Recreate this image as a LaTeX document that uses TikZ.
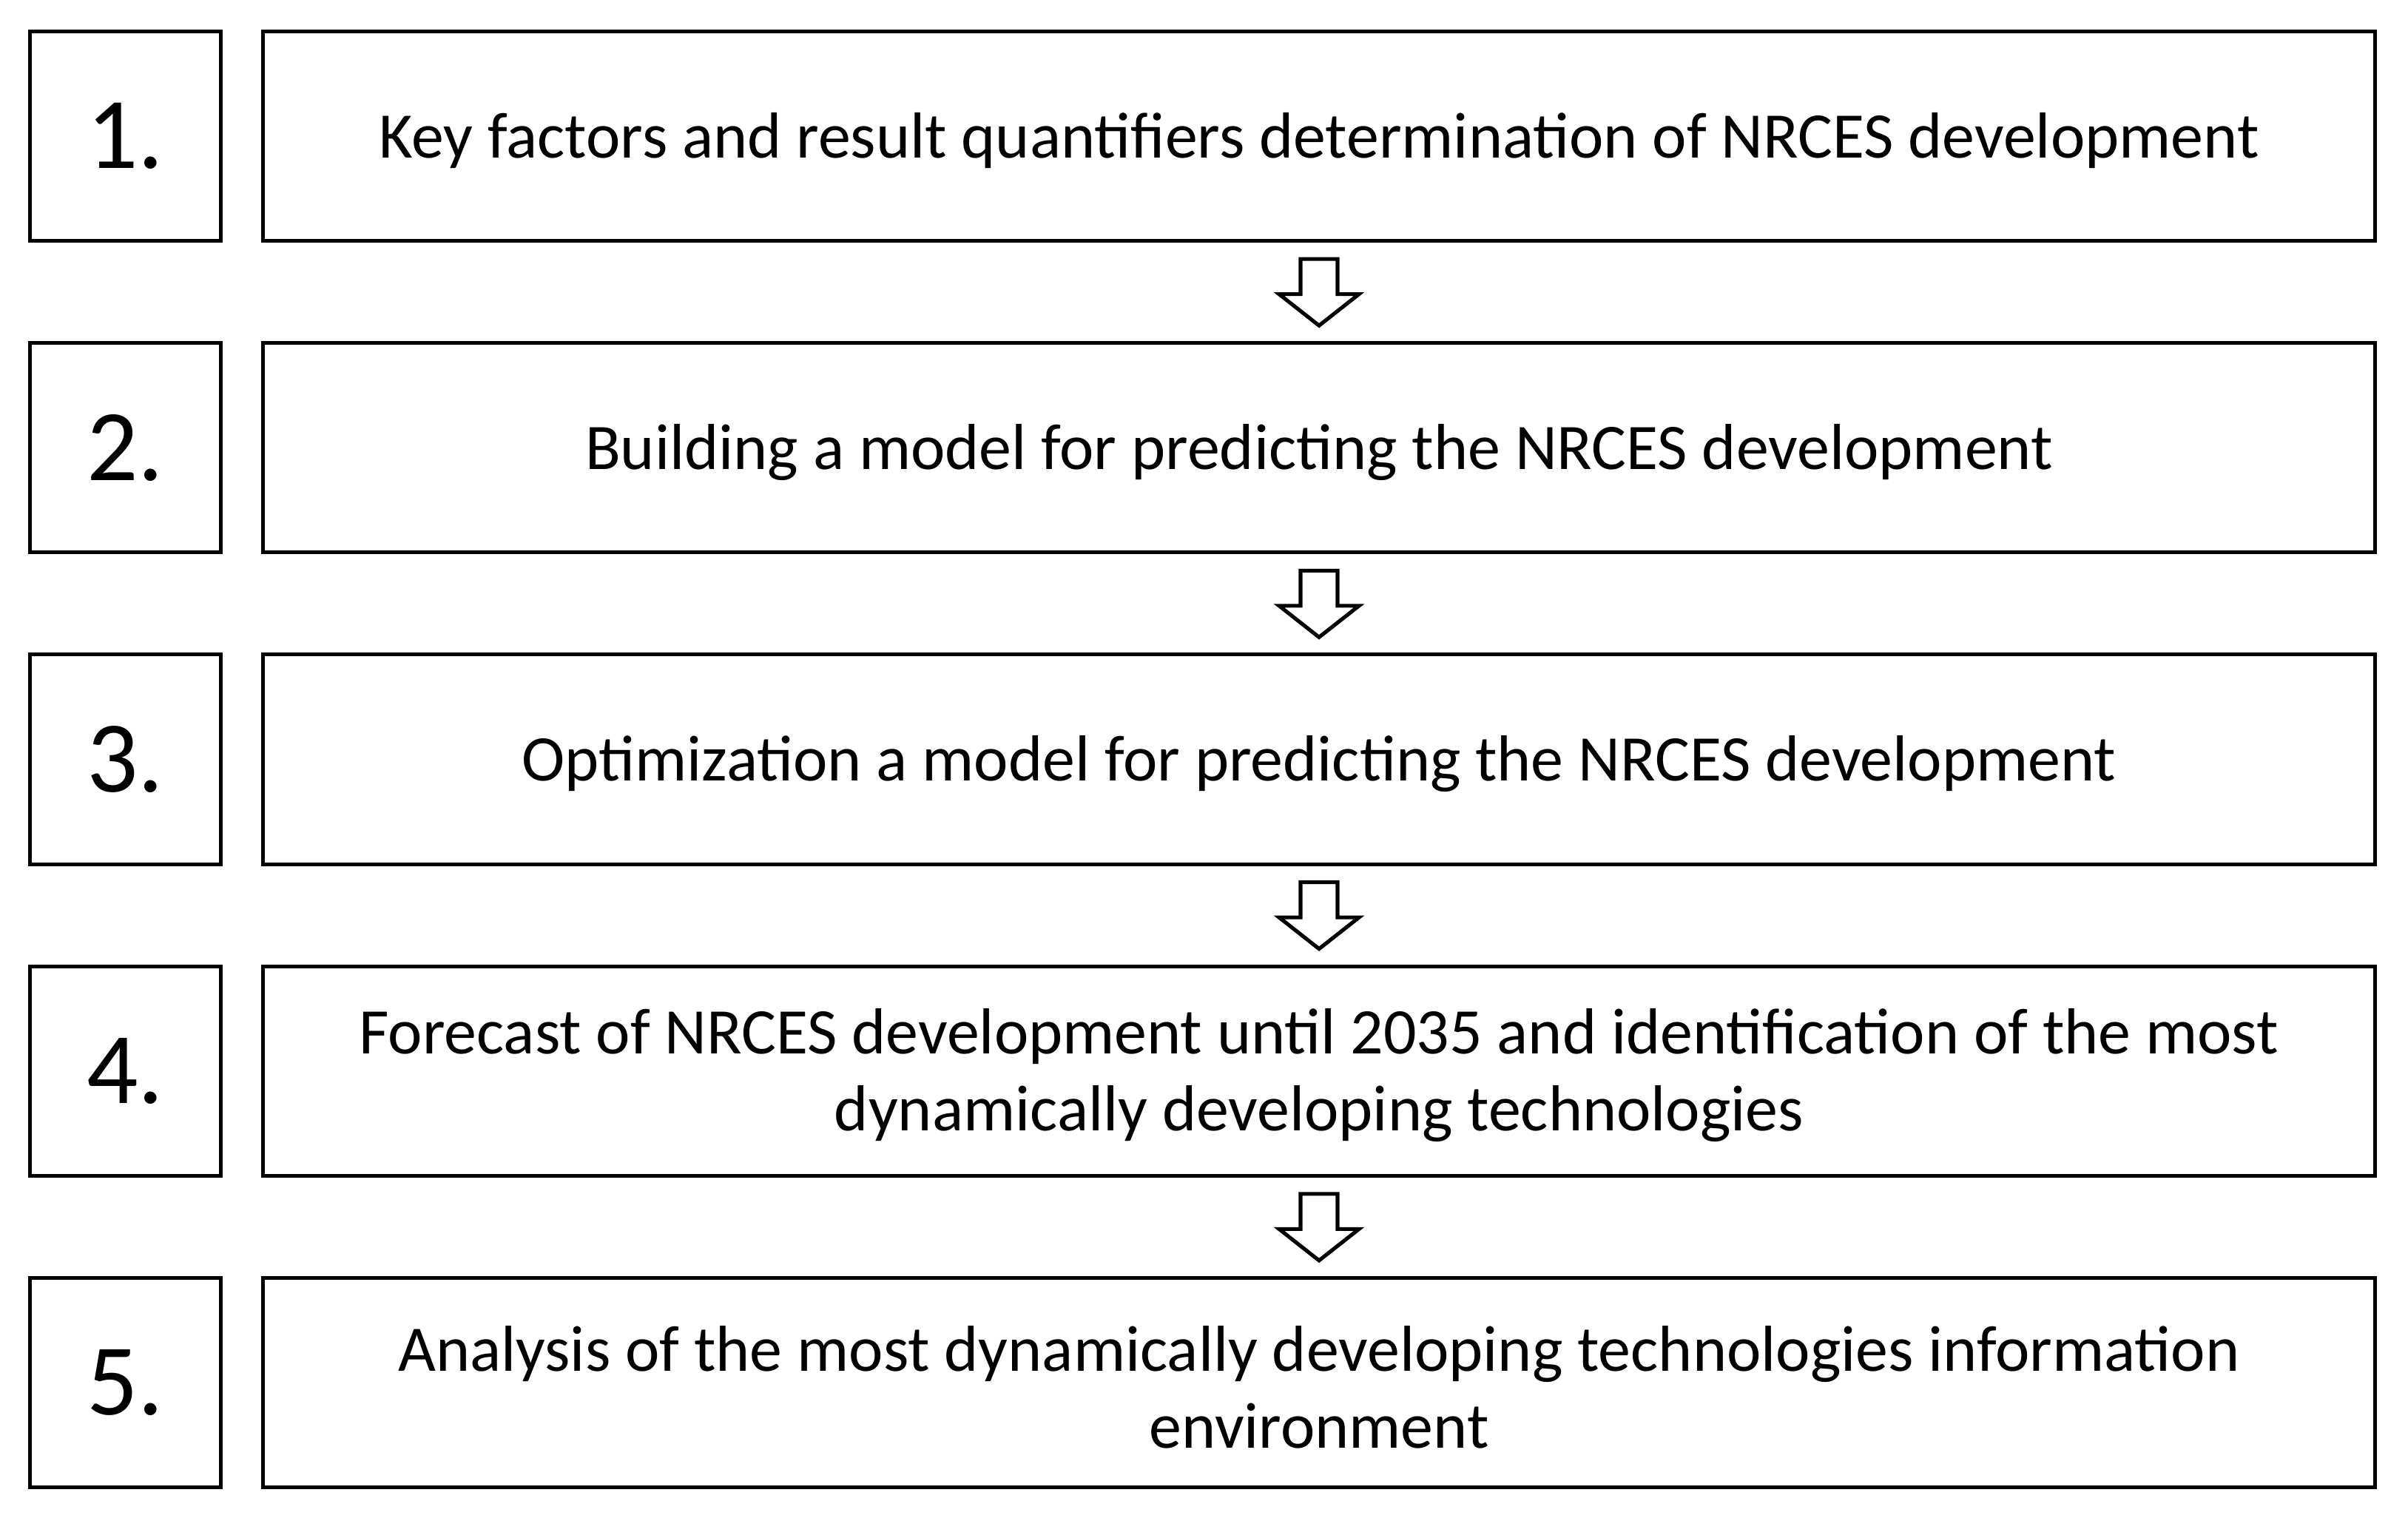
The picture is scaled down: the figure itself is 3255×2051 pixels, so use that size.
\documentclass[tikz,border=0pt]{standalone}
\usepackage{fontspec}
\setmainfont{Carlito}
\usetikzlibrary{calc}
\begin{document}
\begin{tikzpicture}[x=0.01cm,y=-0.01cm,
  numbox/.style={draw,line width=1.45pt,minimum width=2.57cm,minimum height=2.83cm,inner sep=0pt,
    font=\fontsize{39}{47}\selectfont},
  stepbox/.style={draw,line width=1.45pt,minimum width=28.53cm,minimum height=2.83cm,inner sep=0pt},
  steptext/.style={align=center,font=\fontsize{25}{29.5}\selectfont,yshift=-0.06cm,inner sep=0pt},
  flowarrow/.style={draw,line width=1.45pt,fill=white,line join=miter}]
\useasboundingbox (0,0) rectangle (3255,2051);
\foreach \i/\t in {1/{Key factors and result quantifiers determination of NRCES development},
  2/{Building a model for predicting the NRCES development},
  3/{Optimization a model for predicting the NRCES development},
  4/{Forecast of NRCES development until 2035 and identification of the most\\dynamically developing technologies},
  5/{Analysis of the most dynamically developing technologies information\\environment}}{
  \node[numbox] (n\i) at (169.5,{184+421.25*(\i-1)}) {\i.};
  \node[stepbox,label={[steptext]center:\t}] (m\i) at (1783,{184+421.25*(\i-1)}) {};
}
\foreach \a/\b in {1/2,2/3,3/4,4/5}{
  \draw[flowarrow] ([shift={(-25,22)}]m\a.south) -- ([shift={(25,22)}]m\a.south)
    -- ([shift={(25,69.5)}]m\a.south) -- ([shift={(54,69.5)}]m\a.south)
    -- ([shift={(0,-21)}]m\b.north) -- ([shift={(-54,69.5)}]m\a.south)
    -- ([shift={(-25,69.5)}]m\a.south) -- cycle;
}
\end{tikzpicture}
\end{document}
